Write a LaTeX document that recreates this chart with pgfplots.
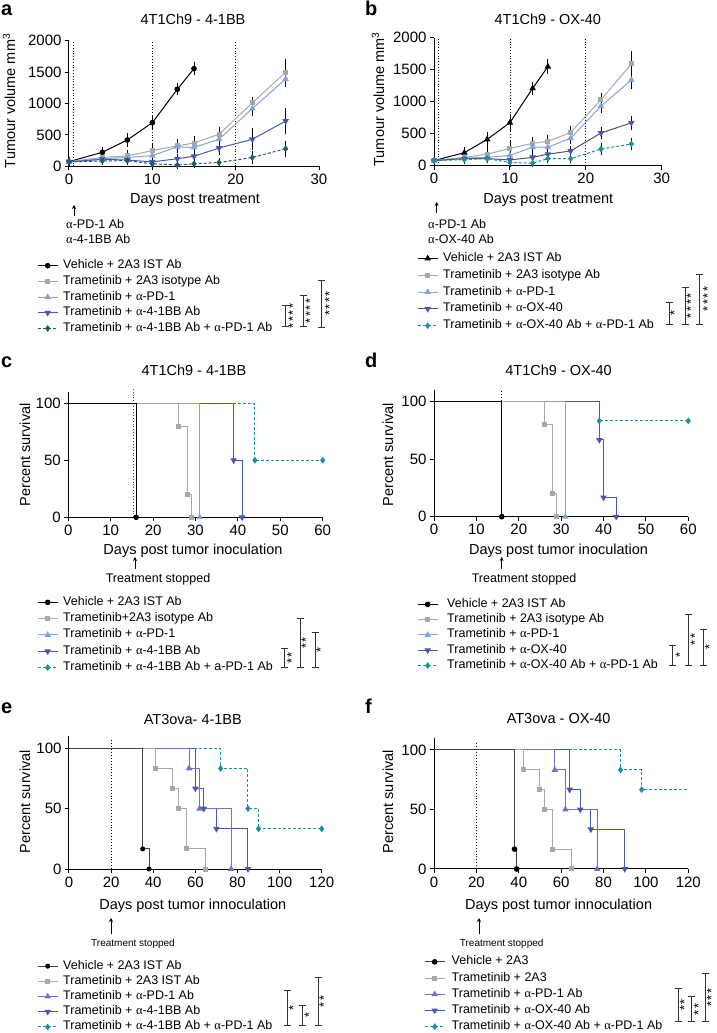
\documentclass[border=0pt]{standalone}
\usepackage{fontspec}
\setmainfont{Liberation Sans}
\newfontfamily\grk{Liberation Serif}
\usepackage{pgfplots}
\pgfplotsset{compat=1.18}
\usetikzlibrary{arrows.meta}

\definecolor{cgray}{HTML}{A8A8A8}
\definecolor{clb}{HTML}{7FA6DC}
\definecolor{cblue}{HTML}{4657B4}
\definecolor{cpur}{HTML}{6D74C8}
\definecolor{cteal}{HTML}{1B8FA3}
\definecolor{cdteal}{HTML}{1F5B6A}
\definecolor{cdk}{HTML}{555555}

\newcommand{\fs}[1]{\fontsize{#1}{#1}\selectfont}
\newcommand{\al}{{\grk α}}
% bracket: x, top (px from top), bottom, x of stars, stars
\newcommand{\brk}[5]{%
  \draw[line width=0.9pt, black!80] (#1-3.5,1033-#2) -- (#1+3.5,1033-#2)
    (#1,1033-#2) -- (#1,1033-#3) (#1-3.5,1033-#3) -- (#1+3.5,1033-#3);
  \node[rotate=90, font=\fs{13}, inner sep=0pt] at (#4,{1033-(#2+#3)/2}) {#5};}

\pgfplotsset{
  panel/.style={
    scale only axis, anchor=south west, clip=false,
    axis x line*=bottom, axis y line*=left,
    axis line style={line width=1pt},
    tick align=outside, major tick length=4pt,
    tick style={line width=1pt, black},
    tick label style={font=\fs{15}},
    label style={font=\fs{14.5}},
    title style={font=\fs{14.5}, anchor=center},
    xlabel style={anchor=center},
    ylabel style={anchor=center},
    /pgf/number format/assume math mode=true,
    /pgf/number format/set thousands separator={},
    legend cell align=left,
    legend image code/.code={\draw[mark indices={2}] plot coordinates {(0pt,0pt) (10pt,0pt) (20pt,0pt)};},
    legend style={draw=none, fill=none, inner sep=0pt, anchor=north west,
      font=\fs{12.5}, column sep=5pt,
      nodes={inner sep=0pt, text height=9pt, text depth=3pt}},
  },
  errs/.style={error bars/.cd, y dir=both, y explicit,
    error bar style={line width=0.8pt, black},
    error mark options={line width=0.8pt, black, mark size=3.5pt}},
  survc/.style={panel, ymin=0, ymax=110, ytick={0,50,100}, xmin=0, xmax=60,
    xtick={0,10,...,60}, reverse legend},
  surve/.style={panel, ymin=0, ymax=110, ytick={0,50,100}, xmin=0, xmax=120,
    xtick={0,20,...,120}, reverse legend},
}

\begin{document}
\begin{tikzpicture}[x=1pt,y=1pt]
\useasboundingbox (0,0) rectangle (717,1033);

% ---------------- a ----------------
\begin{axis}[panel, at={(69pt,866.7pt)}, width=250pt, height=125.6pt,
  xmin=0, xmax=30, ymin=0, ymax=2000, xtick={0,10,20,30}, ytick={0,500,...,2000},
  title={4T1Ch9 - 4-1BB}, title style={at={(axis description cs:0.496,1.125)}},
  xlabel={Days post treatment}, xlabel style={at={(axis description cs:0.504,-0.268)}},
  ylabel={Tumour volume mm\textsuperscript{3}}, ylabel style={at={(axis description cs:-0.24,0.52)}},
  legend style={at={(axis description cs:-0.128,-0.742)}, row sep=3.7pt}]
\addplot[forget plot, dotted, line width=0.8pt] coordinates {(0.5,0) (0.5,2000)};
\addplot[forget plot, dotted, line width=0.8pt] coordinates {(10,0) (10,2000)};
\addplot[forget plot, dotted, line width=0.8pt] coordinates {(20,0) (20,2000)};
\addplot[black, line width=1pt, mark=*, mark size=2.3pt, errs] coordinates {
  (0,74) +- (0,20) (4,223) +- (0,30) (7,419) +- (0,50) (10,695) +- (0,60)
  (13,1226) +- (0,40) (15,1555) +- (0,50)};
\addlegendentry{Vehicle + 2A3 IST Ab}
\addplot[cgray, line width=1pt, mark=square*, mark size=2pt, errs] coordinates {
  (0,74) +- (0,15) (4,140) +- (0,30) (7,165) +- (0,40) (10,250) +- (0,60)
  (13,325) +- (0,60) (15,370) +- (0,60) (18,510) +- (0,60) (22,1010) +- (0,40)
  (26,1500) +- (0,160)};
\addlegendentry{Trametinib + 2A3 isotype Ab}
\addplot[clb, line width=1pt, mark=triangle*, mark size=2.8pt, errs] coordinates {
  (0,70) +- (0,15) (4,120) +- (0,20) (7,140) +- (0,30) (10,170) +- (0,40)
  (13,310) +- (0,50) (15,300) +- (0,50) (18,430) +- (0,60) (22,920) +- (0,70)
  (26,1390) +- (0,70)};
\addlegendentry{Trametinib + \al-PD-1}
\addplot[cblue, line width=1pt, mark=triangle*, mark size=2.8pt, mark options={rotate=180}, errs] coordinates {
  (0,70) +- (0,10) (4,110) +- (0,20) (7,100) +- (0,20) (10,70) +- (0,20)
  (13,120) +- (0,20) (15,160) +- (0,20) (18,290) +- (0,60) (22,430) +- (0,120)
  (26,720) +- (0,150)};
\addlegendentry{Trametinib + \al-4-1BB Ab}
\addplot[cdteal, line width=1pt, densely dashed, mark=diamond*, mark size=2.6pt, mark options={solid}, errs] coordinates {
  (0,70) +- (0,10) (4,85) +- (0,10) (7,90) +- (0,10) (10,40) +- (0,10)
  (13,20) +- (0,10) (15,40) +- (0,10) (18,60) +- (0,10) (22,140) +- (0,50)
  (26,280) +- (0,70)};
\addlegendentry{Trametinib + \al-4-1BB Ab + \al-PD-1 Ab}
\end{axis}

% ---------------- b ----------------
\begin{axis}[panel, at={(434pt,867.3pt)}, width=227.7pt, height=128pt,
  xmin=0, xmax=30, ymin=0, ymax=2000, xtick={0,10,20,30}, ytick={0,500,...,2000},
  title={4T1Ch9 - OX-40}, title style={at={(axis description cs:0.5,1.099)}},
  xlabel={Days post treatment}, xlabel style={at={(axis description cs:0.502,-0.268)}},
  ylabel={Tumour volume mm\textsuperscript{3}}, ylabel style={at={(axis description cs:-0.246,0.52)}},
  legend style={at={(axis description cs:-0.0747,-0.676)}, row sep=4.8pt}]
\addplot[forget plot, dotted, line width=0.8pt] coordinates {(0.6,0) (0.6,2000)};
\addplot[forget plot, dotted, line width=0.8pt] coordinates {(10,0) (10,2000)};
\addplot[forget plot, dotted, line width=0.8pt] coordinates {(20,0) (20,2000)};
\addplot[black, line width=1pt, mark=triangle*, mark size=2.8pt, errs] coordinates {
  (0,80) +- (0,20) (4,203) +- (0,30) (7,411) +- (0,60) (10,672) +- (0,80)
  (13,1209) +- (0,50) (15,1547) +- (0,60)};
\addlegendentry{Vehicle + 2A3 IST Ab}
\addplot[cgray, line width=1pt, mark=square*, mark size=2pt, errs] coordinates {
  (0,80) +- (0,15) (4,130) +- (0,30) (7,180) +- (0,50) (10,270) +- (0,60)
  (13,350) +- (0,50) (15,380) +- (0,50) (18,520) +- (0,40) (22,1030) +- (0,50)
  (26,1590) +- (0,140)};
\addlegendentry{Trametinib + 2A3 isotype Ab}
\addplot[clb, line width=1pt, mark=triangle*, mark size=2.8pt, errs] coordinates {
  (0,80) +- (0,15) (4,120) +- (0,20) (7,130) +- (0,30) (10,160) +- (0,40)
  (13,290) +- (0,30) (15,290) +- (0,40) (18,430) +- (0,30) (22,930) +- (0,50)
  (26,1340) +- (0,80)};
\addlegendentry{Trametinib + \al-PD-1}
\addplot[cdk, line width=1pt, mark=triangle*, mark size=2.8pt, mark options={rotate=180, fill=cblue, draw=cblue}, errs] coordinates {
  (0,80) +- (0,10) (4,110) +- (0,20) (7,110) +- (0,20) (10,90) +- (0,20)
  (13,130) +- (0,20) (15,180) +- (0,20) (18,230) +- (0,20) (22,510) +- (0,40)
  (26,670) +- (0,50)};
\addlegendentry{Trametinib + \al-OX-40}
\addplot[cteal, line width=1pt, densely dashed, mark=diamond*, mark size=2.6pt, mark options={solid}, errs] coordinates {
  (0,80) +- (0,10) (4,95) +- (0,10) (7,110) +- (0,10) (10,50) +- (0,20)
  (13,40) +- (0,10) (15,110) +- (0,20) (18,110) +- (0,20) (22,260) +- (0,40)
  (26,340) +- (0,40)};
\addlegendentry{Trametinib + \al-OX-40 Ab + \al-PD-1 Ab}
\end{axis}

% ---------------- c ----------------
\begin{axis}[survc, at={(68.3pt,515.7pt)}, width=254.4pt, height=125.4pt,
  title={4T1Ch9 - 4-1BB}, title style={at={(axis description cs:0.494,1.127)}},
  xlabel={Days post tumor inoculation}, xlabel style={at={(axis description cs:0.49,-0.266)}},
  ylabel={Percent survival}, ylabel style={at={(axis description cs:-0.17,0.497)}},
  legend style={at={(axis description cs:-0.123,-0.629)}, row sep=4.3pt}]
\addplot[forget plot, dotted, line width=0.9pt, black!70] coordinates {(15.4,0) (15.4,114)};
\addplot[cteal, line width=1pt, densely dashed, const plot, mark=diamond*, mark size=2.6pt, mark options={solid}, mark indices={2,3}] coordinates {(0,100) (44,50) (60,50)};
\addlegendentry{Trametinib + \al-4-1BB Ab + a-PD-1 Ab}
\addplot[cblue, line width=1pt, const plot, mark=triangle*, mark size=2.8pt, mark options={rotate=180}, mark indices={2,3}] coordinates {(0,100) (39,50) (41,0)};
\addlegendentry{Trametinib + \al-4-1BB Ab}
\addplot[clb, line width=1pt, const plot, mark=triangle*, mark size=2.8pt, mark indices={2}] coordinates {(0,100) (31,0)};
\addlegendentry{Trametinib + \al-PD-1}
\addplot[cgray, line width=1pt, const plot, mark=square*, mark size=2pt, mark indices={2,3,4}] coordinates {(0,100) (26,80) (28,20) (29,0)};
\addlegendentry{Trametinib+2A3 isotype Ab}
\addplot[black, line width=1pt, const plot, mark=*, mark size=2.3pt, mark indices={2}] coordinates {(0,100) (16,0)};
\addlegendentry{Vehicle + 2A3 IST Ab}
\end{axis}

% ---------------- d ----------------
\begin{axis}[survc, at={(434pt,516.3pt)}, width=254.3pt, height=126.5pt,
  title={4T1Ch9 - OX-40}, title style={at={(axis description cs:0.49,1.112)}},
  xlabel={Days post tumor inoculation}, xlabel style={at={(axis description cs:0.49,-0.269)}},
  ylabel={Percent survival}, ylabel style={at={(axis description cs:-0.181,0.49)}},
  legend style={at={(axis description cs:-0.0668,-0.644)}, row sep=3.3pt, column sep=9pt}]
\addplot[forget plot, dotted, line width=0.9pt] coordinates {(16,0) (16,110)};
\addplot[cteal, line width=1pt, densely dashed, const plot, mark=diamond*, mark size=2.6pt, mark options={solid}, mark indices={2,3}] coordinates {(0,100) (39,83.3) (60,83.3)};
\addlegendentry{Trametinib + \al-OX-40 Ab + \al-PD-1 Ab}
\addplot[cblue, line width=1pt, const plot, mark=triangle*, mark size=2.8pt, mark options={rotate=180}, mark indices={2,3,4}] coordinates {(0,100) (39,66.7) (40,16.7) (43,0)};
\addlegendentry{Trametinib + \al-OX-40}
\addplot[clb, line width=1pt, const plot, mark=triangle*, mark size=2.8pt, mark indices={2}] coordinates {(0,100) (31,0)};
\addlegendentry{Trametinib + \al-PD-1}
\addplot[cgray, line width=1pt, const plot, mark=square*, mark size=2pt, mark indices={2,3,4}] coordinates {(0,100) (26,80) (28,20) (29,0)};
\addlegendentry{Trametinib + 2A3 isotype Ab}
\addplot[black, line width=1pt, const plot, mark=*, mark size=2.3pt, mark indices={2}] coordinates {(0,100) (16,0)};
\addlegendentry{Vehicle + 2A3 IST Ab}
\end{axis}

% ---------------- e ----------------
\begin{axis}[surve, at={(69pt,164pt)}, width=252.7pt, height=132.8pt,
  title={AT3ova- 4-1BB}, title style={at={(axis description cs:0.49,1.084)}},
  xlabel={Days post tumor innoculation}, xlabel style={at={(axis description cs:0.49,-0.279)}},
  ylabel={Percent survival}, ylabel style={at={(axis description cs:-0.174,0.507)}},
  legend style={at={(axis description cs:-0.1266,-0.685)}, row sep=3.2pt}]
\addplot[forget plot, dotted, line width=0.9pt] coordinates {(20,0) (20,107)};
\addplot[cteal, line width=1pt, densely dashed, const plot, mark=diamond*, mark size=2.6pt, mark options={solid}, mark indices={2,3,4,5}] coordinates {(0,100) (72,83.3) (85,50) (90,33.3) (120,33.3)};
\addlegendentry{Trametinib + \al-4-1BB Ab + \al-PD-1 Ab}
\addplot[cblue, line width=1pt, const plot, mark=triangle*, mark size=2.8pt, mark options={rotate=180}, mark indices={2,3,4,5}] coordinates {(0,100) (60,66.7) (64,50) (70,33.3) (85,0)};
\addlegendentry{Trametinib + \al-4-1BB Ab}
\addplot[cpur, line width=1pt, const plot, mark=triangle*, mark size=2.8pt, mark indices={2,3,4}] coordinates {(0,100) (57,83.3) (62,50) (77,0)};
\addlegendentry{Trametinib + \al-PD-1 Ab}
\addplot[cgray, line width=1pt, const plot, mark=square*, mark size=2pt, mark indices={2,3,4,5,6}] coordinates {(0,100) (41,83.3) (49,66.7) (52,50) (56,16.7) (65,0)};
\addlegendentry{Trametinib + 2A3 IST Ab}
\addplot[black!75, line width=1pt, const plot, mark=*, mark size=2pt, mark options={black}, mark indices={2,3}] coordinates {(0,100) (35,16.7) (38,0)};
\addlegendentry{Vehicle + 2A3 IST Ab}
\end{axis}

% ---------------- f ----------------
\begin{axis}[surve, at={(434pt,164pt)}, width=254.3pt, height=130.9pt,
  title={AT3ova - OX-40}, title style={at={(axis description cs:0.49,1.10)}},
  xlabel={Days post tumor innoculation}, xlabel style={at={(axis description cs:0.49,-0.283)}},
  ylabel={Percent survival}, ylabel style={at={(axis description cs:-0.181,0.514)}},
  legend style={at={(axis description cs:-0.0393,-0.662)}, row sep=4.2pt, column sep=6.5pt}]
\addplot[forget plot, dotted, line width=0.9pt] coordinates {(20,0) (20,107)};
\addplot[cteal, line width=1pt, densely dashed, const plot, mark=diamond*, mark size=2.6pt, mark options={solid}, mark indices={2,3}] coordinates {(0,100) (88,83.3) (98,66.7) (120,66.7)};
\addlegendentry{Trametinib + \al-OX-40 Ab + \al-PD-1 Ab}
\addplot[cblue, line width=1pt, const plot, mark=triangle*, mark size=2.8pt, mark options={rotate=180}, mark indices={2,3,4,5}] coordinates {(0,100) (64,66.7) (69,50) (74,33.3) (90,0)};
\addlegendentry{Trametinib + \al-OX-40 Ab}
\addplot[cpur, line width=1pt, const plot, mark=triangle*, mark size=2.8pt, mark indices={2,3,4}] coordinates {(0,100) (57,83.3) (62,50) (77,0)};
\addlegendentry{Trametinib + \al-PD-1 Ab}
\addplot[cgray, line width=1pt, const plot, mark=square*, mark size=2pt, mark indices={2,3,4,5,6}] coordinates {(0,100) (42,83.3) (50,66.7) (52,50) (56,16.7) (65,0)};
\addlegendentry{Trametinib + 2A3}
\addplot[black!75, line width=1pt, const plot, mark=*, mark size=2.3pt, mark options={black}, mark indices={2,3}] coordinates {(0,100) (38,16.7) (39,0)};
\addlegendentry{Vehicle + 2A3}
\end{axis}

% ---------------- annotations ----------------
\foreach \l/\x/\y in {a/1/16, b/365/16, c/1/367.3, d/365/367.3, e/1/713.3, f/365/713.3}
  \node[anchor=base west, inner sep=0pt, font=\bfseries\fs{20}] at (\x,1033-\y) {\l};

\draw[-{Stealth[length=4pt,width=4pt]}, line width=0.9pt] (74,1033-216) -- (74,1033-205);
\node[anchor=west, inner sep=0pt, font=\fs{12.5}] at (66,1033-224) {\al-PD-1 Ab};
\node[anchor=west, inner sep=0pt, font=\fs{12.5}] at (66,1033-239) {\al-4-1BB Ab};
\draw[-{Stealth[length=4pt,width=4pt]}, line width=0.9pt] (436.7,1033-213) -- (436.7,1033-202);
\node[anchor=west, inner sep=0pt, font=\fs{12.5}] at (428,1033-224) {\al-PD-1 Ab};
\node[anchor=west, inner sep=0pt, font=\fs{12.5}] at (428,1033-239) {\al-OX-40 Ab};

\draw[-{Stealth[length=4pt,width=4pt]}, line width=0.9pt] (135,1033-569) -- (135,1033-557);
\node[font=\fs{12.5}] at (158,1033-579) {Treatment stopped};
\draw[-{Stealth[length=4pt,width=4pt]}, line width=0.9pt] (501.7,1033-569) -- (501.7,1033-557);
\node[font=\fs{12.5}] at (524,1033-579) {Treatment stopped};
\draw[-{Stealth[length=4pt,width=4pt]}, line width=0.9pt] (111,1033-934) -- (111,1033-918);
\node[font=\fs{10}] at (133,1033-944) {Treatment stopped};
\draw[-{Stealth[length=4pt,width=4pt]}, line width=0.9pt] (479,1033-934) -- (479,1033-918);
\node[font=\fs{10}] at (501.7,1033-944) {Treatment stopped};

\brk{285.7}{305.7}{326}{293}{*\kern1.5pt*\kern1.5pt*\kern1.5pt*}
\brk{303.3}{295.7}{326}{310}{*\kern1.5pt*\kern1.5pt*\kern1.5pt*}
\brk{321.7}{280}{327}{329.3}{*\kern1.5pt*\kern1.5pt*\kern1.5pt*}
\brk{669.3}{302.7}{324}{674.5}{*}
\brk{685}{287.3}{324}{691}{*\kern1.5pt*\kern1.5pt*\kern1.5pt*}
\brk{699.3}{274}{324}{707.7}{*\kern1.5pt*\kern1.5pt*\kern1.5pt*}

\brk{284.3}{648.3}{667.7}{291.7}{*\kern1.5pt*}
\brk{300}{618.3}{667.7}{306}{*\kern1.5pt*}
\brk{315}{632.7}{667.7}{320.7}{*}
\brk{672.7}{645}{665}{680}{*}
\brk{688.3}{614}{665}{695}{*\kern1.5pt*}
\brk{703.3}{629.3}{665}{709.3}{*}

\brk{287.3}{990.7}{1025.7}{293.3}{*}
\brk{302.7}{1005}{1025.7}{309}{*}
\brk{318.3}{977.3}{1025.7}{324}{*\kern1.5pt*}
\brk{678.3}{988.3}{1021.7}{684.3}{*\kern1.5pt*}
\brk{691.7}{996.7}{1021.7}{698.3}{*\kern1.5pt*}
\brk{705.5}{973.3}{1021.7}{711.5}{*\kern1.5pt*\kern1.5pt*}
\end{tikzpicture}
\end{document}
